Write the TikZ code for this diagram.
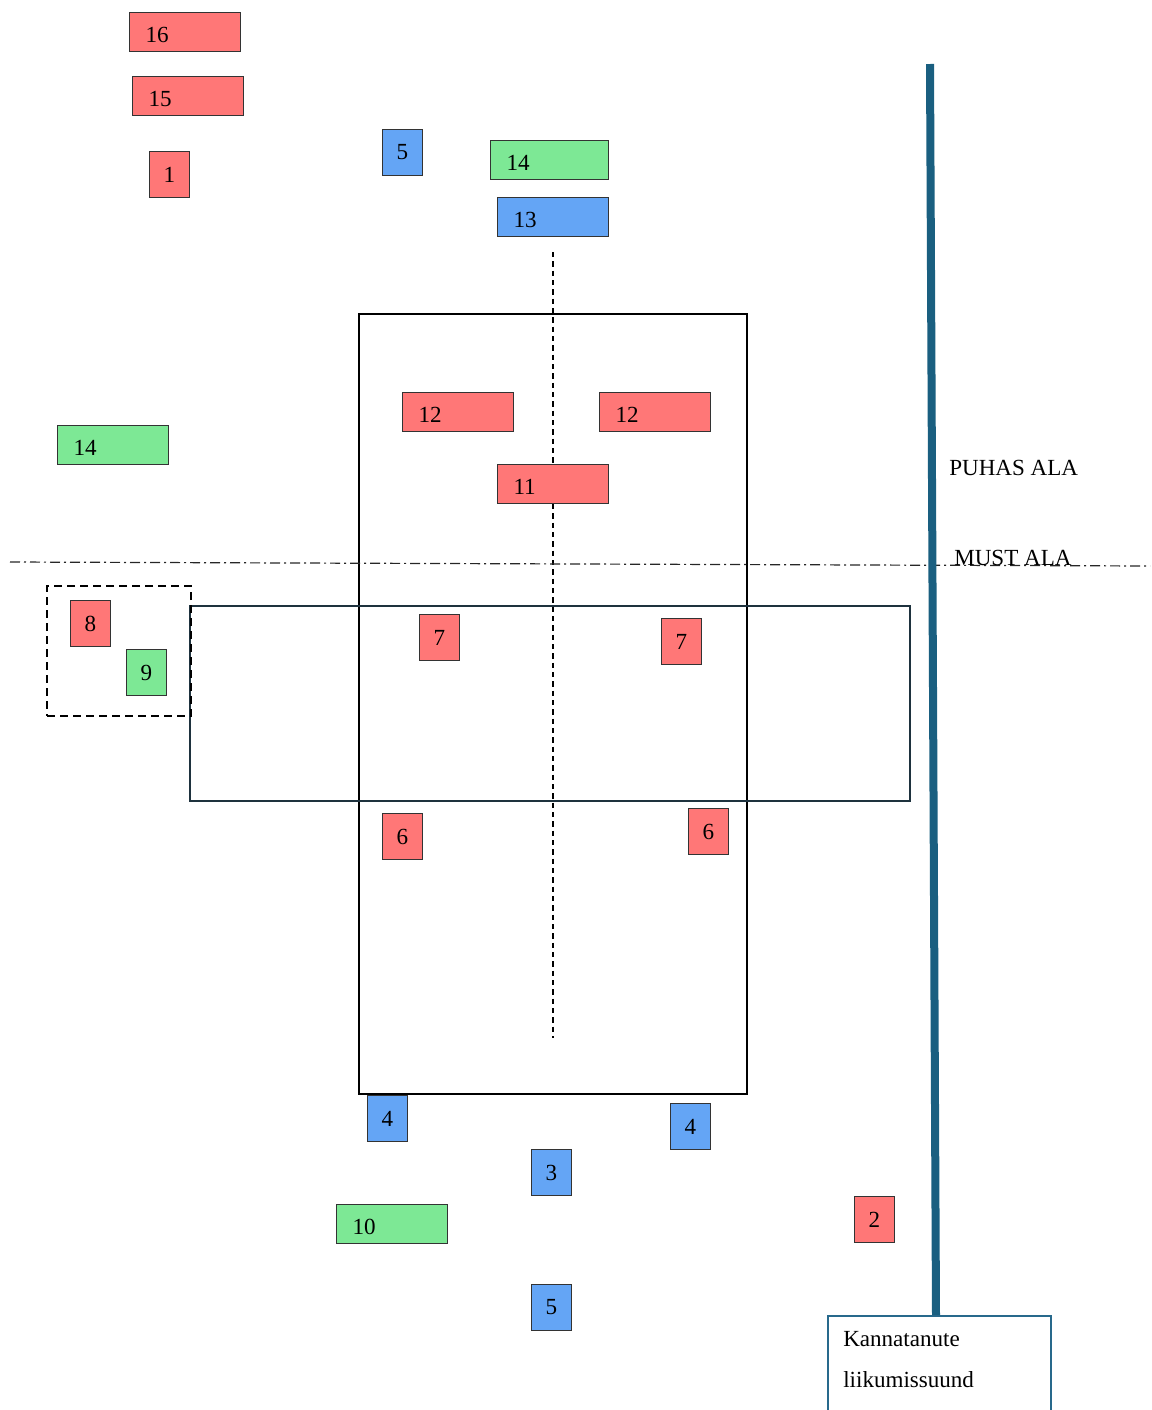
\documentclass[tikz,border=0pt]{standalone}
\usepackage{fontspec}
\setmainfont{Liberation Serif}
\definecolor{boxred}{RGB}{255,119,119}
\definecolor{boxgreen}{RGB}{125,232,149}
\definecolor{boxblue}{RGB}{100,165,245}
\definecolor{thickblue}{RGB}{26,95,128}
\definecolor{slate}{RGB}{30,50,62}
\definecolor{notebd}{RGB}{40,105,140}
\tikzset{
  every node/.style={font=\fontsize{17.3}{20.8}\selectfont},
  sq/.style={draw=black!80, line width=0.75pt, inner sep=0pt, minimum width=30pt, minimum height=34.5pt, anchor=north west},
  wide/.style={draw=black!80, line width=0.75pt, inner ysep=0pt, inner xsep=12pt, text width=59.25pt, text height=15.5pt, text depth=0pt, align=left, minimum height=29.25pt, anchor=north west},
  red/.style={fill=boxred}, green/.style={fill=boxgreen}, blue/.style={fill=boxblue},
  lbl/.style={inner sep=0pt, anchor=base west}
}
\begin{document}
\begin{tikzpicture}[x=0.75pt,y=-0.75pt]
\useasboundingbox (0,0) rectangle (1152,1410);
% main frames
\node[draw=black, line width=1.5pt, inner sep=0pt, minimum width=291pt, minimum height=585pt, anchor=north west] (vert) at (358,313) {};
\node[draw=slate, line width=1.5pt, inner sep=0pt, minimum width=540pt, minimum height=146.25pt, anchor=north west] (horiz) at (189,605) {};
\node[draw=black, line width=1.5pt, dash pattern=on 6pt off 3.75pt, inner sep=0pt, minimum width=108pt, minimum height=97.5pt, anchor=north west] (group) at (46,585) {};
% center axis
\coordinate (axtop) at (553,252);
\coordinate (axbot) at (553,1038);
\draw[line width=0.9pt, dash pattern=on 4pt off 3pt] (axtop) -- (axbot);
% dash-dot boundary
\coordinate (bl) at (10,562);
\coordinate (br) at (1150,566);
\draw[line width=0.9pt, black!85, dash pattern=on 7.5pt off 3pt on 1.5pt off 3pt] (bl) -- (br);
% boxes
\node[wide, red] (b16) at (129,12) {16};
\node[wide, red] (b15) at (132,76) {15};
\node[sq, red] (b1) at (149,151) {1};
\node[sq, blue] (b5t) at (382,129) {5};
\node[wide, green, text width=64.5pt] (b14t) at (490,140) {14};
\node[wide, blue] (b13) at (497,197) {13};
\node[wide, green] (b14l) at (57,425) {14};
\node[wide, red] (b12l) at (402,392) {12};
\node[wide, red] (b12r) at (599,392) {12};
\node[wide, red] (b11) at (497,464) {11};
\node[sq, red] (b8) at (70,600) {8};
\node[sq, green] (b9) at (126,649) {9};
\node[sq, red] (b7l) at (419,614) {7};
\node[sq, red] (b7r) at (661,618) {7};
\node[sq, red] (b6l) at (382,813) {6};
\node[sq, red] (b6r) at (688,808) {6};
\node[sq, blue] (b4l) at (367,1095) {4};
\node[sq, blue] (b4r) at (670,1103) {4};
\node[sq, blue] (b3) at (531,1149) {3};
\node[wide, green] (b10) at (336,1204) {10};
\node[sq, blue] (b5b) at (531,1284) {5};
\node[sq, red] (b2) at (854,1196) {2};
% direction note
\node[draw=notebd, line width=1.5pt, inner sep=0pt, minimum width=167.25pt, minimum height=90pt, anchor=north west] (note) at (827,1315) {};
\node[lbl] (n1) at (843,1346) {Kannatanute};
\node[lbl] (n2) at (843,1387) {liikumissuund};
% thick movement line
\coordinate (ltop) at (930,64);
\draw[thickblue, line width=6pt] (ltop) -- (note.north -| 936,0) ++(0,-4);
% area labels
\node[lbl] (puhas) at (949,475) {PUHAS ALA};
\node[lbl] (must) at (954,565) {MUST ALA};
\end{tikzpicture}
\end{document}
